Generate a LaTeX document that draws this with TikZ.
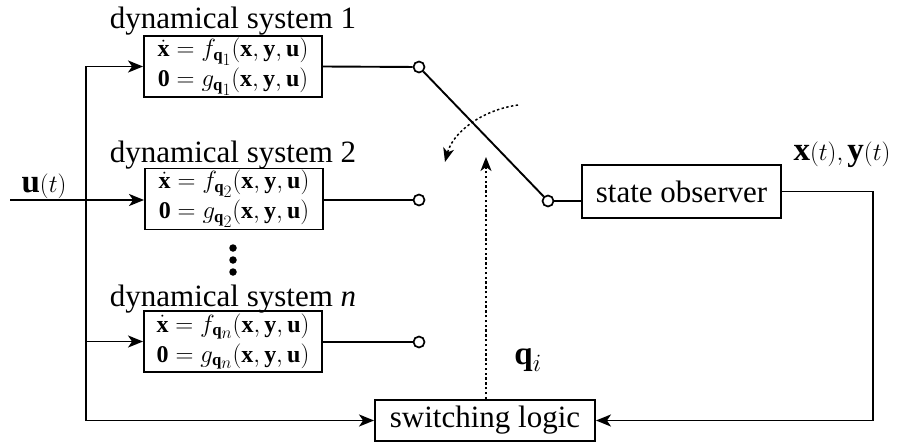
\documentclass[tikz,border=0pt]{standalone}
\usepackage{fontspec}
\setmainfont{Liberation Serif}
\usetikzlibrary{arrows.meta}
\begin{document}
\begin{tikzpicture}[x=1pt,y=-1pt,
  conn/.style={line width=1.9pt},
  arr/.style={conn,-{Stealth[length=15pt,width=12pt,inset=4pt]}},
  dotarr/.style={line width=1.5pt,dash pattern=on 2.4pt off 2.4pt,-{Stealth[length=14pt,width=11pt,inset=4pt]}},
  sysbox/.style={draw,line width=1.9pt,minimum width=178pt,minimum height=61pt,inner sep=0pt,align=center,font=\fontsize{24}{30}\selectfont},
  title/.style={anchor=base,inner sep=0pt,font=\fontsize{31}{36}\selectfont},
  blockbox/.style={draw,line width=1.9pt,inner sep=0pt,font=\fontsize{31}{36}\selectfont},
  port/.style={circle,draw,line width=1.7pt,fill=white,minimum size=11pt,inner sep=0pt},
  lbl/.style={inner sep=0pt,font=\fontsize{33}{36}\selectfont},
  ddot/.style={circle,fill=black,minimum size=7.5pt,inner sep=0pt}]
\useasboundingbox (0,0) rectangle (920,445);

% titles
\node[title] (t1) at (233,28) {dynamical system 1};
\node[title] (t2) at (233,162) {dynamical system 2};
\node[title] (tn) at (233,306) {dynamical system \textit{n}};

% system boxes
\node[sysbox] (sys1) at (233,66.5) {$\dot{\mathbf{x}} = f_{\mathbf{q}_{\scriptstyle 1}}(\mathbf{x},\mathbf{y},\mathbf{u})$\\$\mathbf{0} = g_{\mathbf{q}_{\scriptstyle 1}}(\mathbf{x},\mathbf{y},\mathbf{u})$};
\node[sysbox] (sys2) at (234,199) {$\dot{\mathbf{x}} = f_{\mathbf{q}_{\scriptstyle 2}}(\mathbf{x},\mathbf{y},\mathbf{u})$\\$\mathbf{0} = g_{\mathbf{q}_{\scriptstyle 2}}(\mathbf{x},\mathbf{y},\mathbf{u})$};
\node[sysbox] (sysn) at (233,341.5) {$\dot{\mathbf{x}} = f_{\mathbf{q}_{\scriptstyle n}}(\mathbf{x},\mathbf{y},\mathbf{u})$\\$\mathbf{0} = g_{\mathbf{q}_{\scriptstyle n}}(\mathbf{x},\mathbf{y},\mathbf{u})$};

% dots
\node[ddot] (d1) at (233,248) {};
\node[ddot] (d2) at (233,260) {};
\node[ddot] (d3) at (233,272) {};

% other blocks
\node[blockbox,minimum width=199pt,minimum height=53pt] (obs) at (681.5,191.5) {state observer};
\node[blockbox,minimum width=220pt,minimum height=41pt] (logic) at (485,420.5) {switching logic};

% ports
\node[port] (s1) at (419,67) {};
\node[port] (s2) at (419,200) {};
\node[port] (sn) at (419,342) {};
\node[port] (p) at (548,201) {};

% labels
\node[lbl] (ul) at (44,186) {$\mathbf{u}(t)$};
\node[lbl] (xyl) at (842,155) {$\mathbf{x}(t),\mathbf{y}(t)$};
\node[lbl] (ql) at (528,360) {$\mathbf{q}_i$};

% coordinates
\coordinate (uin) at (10,200);
\coordinate (bus) at (86,0);
\coordinate (rc) at (873,0);
\coordinate (qtop) at (486,157);
\coordinate (ca) at (518,105);
\coordinate (cb) at (445,162);

% input connections
\draw[arr] (uin) -- (uin -| sys2.west);
\draw[arr] (logic.west -| bus) -- (sys1.west -| bus) -- (sys1.west);
\draw[arr] (sysn.west -| bus) -- (sysn.west);
\draw[arr] (logic.west -| bus) -- (logic.west);

% outputs
\draw[conn] (sys1.east) -- (s1);
\draw[conn] (s2 -| sys2.east) -- (s2);
\draw[conn] (sn -| sysn.east) -- (sn);
\draw[conn] (s1) -- (p);
\draw[conn] (p) -- (p -| obs.west);

% feedback
\draw[arr] (obs.east) -- (obs.east -| rc) -- (logic.east -| rc) -- (logic.east);

% switching signal
\draw[dotarr] (logic.north -| qtop) -- (qtop);
\draw[dotarr] (ca) .. controls (482,110) and (453,132) .. (cb);
\end{tikzpicture}
\end{document}
